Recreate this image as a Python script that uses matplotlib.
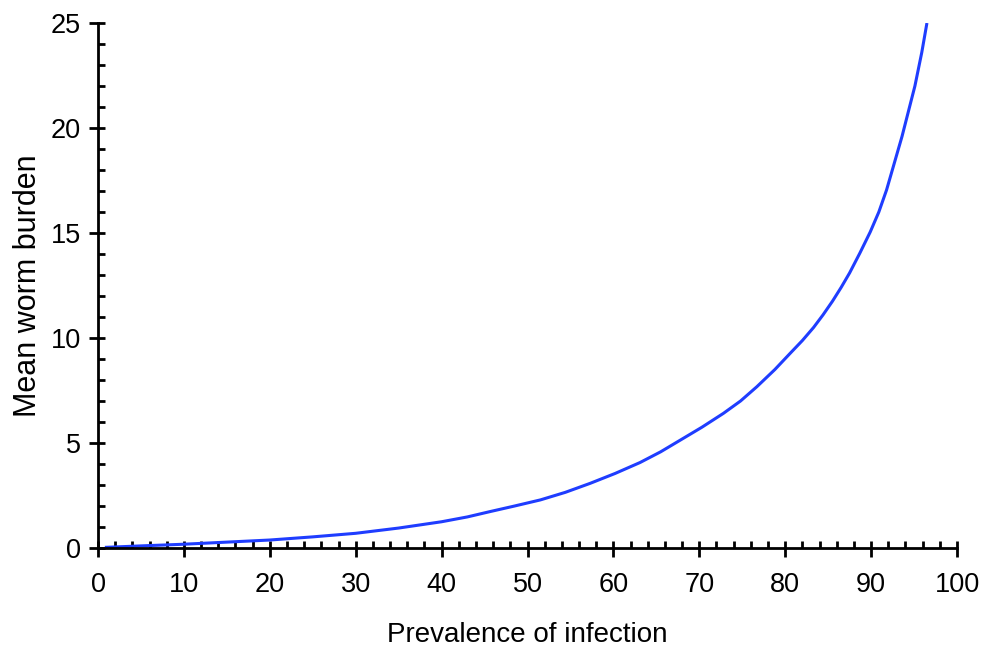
import matplotlib
matplotlib.use("Agg")
import matplotlib.pyplot as plt
from matplotlib.ticker import MultipleLocator

plt.rcParams['font.family'] = ['Liberation Sans', 'DejaVu Sans']

prevalence = [0.8, 5, 10, 15, 20, 25, 30, 35, 40, 43, 45.6, 48.5, 51.5, 54.4, 57.3,
              60.2, 63.1, 65.5, 67.8, 70.3, 72.8, 74.8, 76.7, 78.8, 80.6, 82.0,
              83.3, 84.4, 85.5, 86.5, 87.5, 88.7, 89.9, 90.9, 91.8, 92.4, 93.0,
              93.6, 94.1, 94.6, 95.1, 95.5, 95.9, 96.2, 96.5]
worm_burden = [0.03, 0.1, 0.18, 0.28, 0.38, 0.53, 0.7, 0.95, 1.25, 1.48, 1.73, 2.0,
               2.29, 2.65, 3.08, 3.55, 4.07, 4.58, 5.14, 5.75, 6.41, 7.0, 7.68, 8.5,
               9.28, 9.88, 10.5, 11.1, 11.75, 12.4, 13.1, 14.05, 15.05, 16.0, 17.05,
               17.9, 18.75, 19.6, 20.4, 21.2, 22.0, 22.8, 23.6, 24.3, 25.0]

fig = plt.figure(figsize=(9.81, 6.49), dpi=100)
ax = fig.add_axes([98/981, 1-548/649, (957-98)/981, (548-23)/649])

ax.plot(prevalence, worm_burden, color='#1f3dff', lw=2.2, solid_capstyle='butt',
        solid_joinstyle='round')

ax.set_xlim(0, 100)
ax.set_ylim(0, 25)
for s in ['top', 'right']:
    ax.spines[s].set_visible(False)
for s in ['left', 'bottom']:
    ax.spines[s].set_linewidth(2.0)

ax.xaxis.set_major_locator(MultipleLocator(10))
ax.xaxis.set_minor_locator(MultipleLocator(2))
ax.yaxis.set_major_locator(MultipleLocator(5))
ax.yaxis.set_minor_locator(MultipleLocator(1))
ax.xaxis.remove_overlapping_locs = False
ax.yaxis.remove_overlapping_locs = False

ax.tick_params(which='major', direction='out', length=6.5, width=2.0,
               labelsize=19.5)
ax.tick_params(which='minor', direction='in', length=5, width=2.0)
ax.tick_params(axis='x', which='major', pad=11)
ax.tick_params(axis='y', which='major', pad=6)

ax.set_xlabel('Prevalence of infection', fontsize=20, labelpad=17)
ax.set_ylabel('Mean worm burden', fontsize=22, labelpad=5)

fig.savefig('out.png', dpi=100)
